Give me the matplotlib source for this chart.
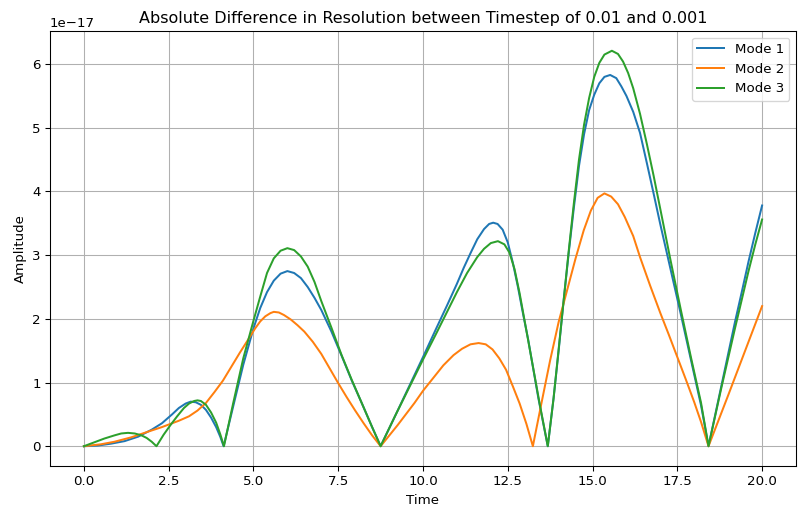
import numpy as np
from matplotlib import pyplot as plt

# amplitudes in units of 1e-17
t_mode1 = [0, 0.4, 0.8, 1.2, 1.6, 2.0, 2.3, 2.6, 2.8, 3.0, 3.15, 3.3, 3.45, 3.6, 3.75, 3.9, 4.02, 4.12,
           4.4, 4.7, 5.0, 5.2, 5.4, 5.6, 5.8, 6.0, 6.2, 6.4, 6.6, 6.8, 7.0, 7.3, 7.6, 7.9, 8.2, 8.5, 8.75,
           9.2, 9.6, 10.0, 10.4, 10.7, 11.0, 11.2, 11.4, 11.6, 11.8, 11.95, 12.07, 12.2, 12.35, 12.5,
           12.65, 12.8, 12.95, 13.1, 13.25, 13.4, 13.55, 13.68,
           13.85, 14.0, 14.15, 14.3, 14.45, 14.6, 14.75, 14.9, 15.05, 15.2, 15.35, 15.52, 15.7, 15.85,
           16.0, 16.2, 16.4, 16.6, 16.8, 17.0, 17.3, 17.6, 17.9, 18.2, 18.42,
           18.8, 19.2, 19.4, 19.6, 19.8, 20.0]
a_mode1 = [0, 0.01, 0.04, 0.08, 0.15, 0.26, 0.36, 0.5, 0.6, 0.67, 0.70, 0.69, 0.65, 0.57, 0.45, 0.3, 0.15, 0.0,
           0.62, 1.28, 1.85, 2.17, 2.42, 2.6, 2.71, 2.75, 2.72, 2.64, 2.5, 2.33, 2.14, 1.8, 1.42, 1.03, 0.67, 0.3, 0.0,
           0.5, 0.95, 1.4, 1.86, 2.2, 2.55, 2.8, 3.03, 3.25, 3.41, 3.49, 3.51, 3.49, 3.4, 3.2,
           2.88, 2.5, 2.08, 1.68, 1.22, 0.76, 0.35, 0.0,
           0.75, 1.5, 2.3, 3.05, 3.75, 4.4, 4.9, 5.28, 5.52, 5.7, 5.8, 5.83, 5.78, 5.65,
           5.5, 5.25, 4.92, 4.45, 3.97, 3.48, 2.78, 2.08, 1.36, 0.64, 0.0,
           0.95, 1.95, 2.42, 2.9, 3.35, 3.78]

t_mode2 = [0, 0.5, 0.9, 1.4, 1.9, 2.3, 2.8, 3.1, 3.35, 3.6, 3.85, 4.1, 4.35, 4.6, 4.85, 5.05, 5.2, 5.35,
           5.5, 5.6, 5.75, 5.9, 6.1, 6.3, 6.5, 6.75, 7.0, 7.25, 7.5, 7.75, 8.0, 8.25, 8.5, 8.75,
           9.25, 9.75, 10.0, 10.3, 10.6, 10.9, 11.15, 11.4, 11.64, 11.85, 12.05, 12.25, 12.45, 12.65,
           12.85, 13.05, 13.24,
           13.51, 13.75, 14.0, 14.25, 14.5, 14.74, 14.95, 15.15, 15.35, 15.55, 15.75, 15.95, 16.2,
           16.4, 16.7, 17.0, 17.25, 17.5, 17.75, 18.0, 18.2, 18.42,
           19.0, 19.5, 20.0]
a_mode2 = [0, 0.03, 0.07, 0.14, 0.23, 0.3, 0.4, 0.47, 0.56, 0.68, 0.85, 1.03, 1.25, 1.47, 1.68, 1.85, 1.96, 2.04,
           2.09, 2.11, 2.1, 2.06, 1.99, 1.9, 1.8, 1.64, 1.45, 1.22, 0.99, 0.77, 0.56, 0.36, 0.17, 0.0,
           0.33, 0.68, 0.87, 1.07, 1.27, 1.43, 1.53, 1.6, 1.62, 1.6, 1.52, 1.38, 1.2, 0.94,
           0.67, 0.35, 0.0,
           0.72, 1.35, 1.95, 2.45, 2.95, 3.39, 3.7, 3.9, 3.97, 3.92, 3.8, 3.6, 3.3,
           2.97, 2.52, 2.09, 1.75, 1.4, 1.05, 0.69, 0.38, 0.0,
           0.8, 1.5, 2.2]

t_mode3 = [0, 0.3, 0.6, 0.9, 1.1, 1.3, 1.5, 1.7, 1.85, 2.0, 2.14,
           2.35, 2.55, 2.75, 2.95, 3.1, 3.25, 3.35, 3.45, 3.6, 3.75, 3.9, 4.02, 4.13,
           4.4, 4.7, 5.0, 5.2, 5.4, 5.6, 5.8, 6.0, 6.2, 6.4, 6.6, 6.8, 7.0, 7.3, 7.6, 7.9, 8.2, 8.5, 8.75,
           9.2, 9.6, 10.0, 10.4, 10.7, 11.0, 11.3, 11.6, 11.8, 12.0, 12.21, 12.4, 12.55, 12.7,
           12.85, 13.0, 13.15, 13.3, 13.45, 13.58, 13.68,
           13.85, 14.0, 14.15, 14.3, 14.45, 14.6, 14.75, 14.9, 15.05, 15.2, 15.35, 15.57, 15.75, 15.9,
           16.05, 16.2, 16.4, 16.6, 16.8, 17.0, 17.3, 17.6, 17.9, 18.2, 18.42,
           18.8, 19.2, 19.4, 19.6, 19.8, 20.0]
a_mode3 = [0, 0.06, 0.12, 0.17, 0.2, 0.21, 0.2, 0.17, 0.13, 0.07, 0.0,
           0.18, 0.33, 0.47, 0.6, 0.67, 0.71, 0.72, 0.71, 0.65, 0.53, 0.37, 0.19, 0.0,
           0.67, 1.38, 1.97, 2.35, 2.72, 2.95, 3.07, 3.11, 3.08, 2.98, 2.82, 2.58, 2.28, 1.86, 1.43, 1.04, 0.67, 0.3, 0.0,
           0.5, 0.93, 1.36, 1.78, 2.1, 2.42, 2.72, 2.97, 3.1, 3.19, 3.22, 3.17, 3.04, 2.78,
           2.4, 1.96, 1.52, 1.08, 0.64, 0.28, 0.0,
           0.75, 1.52, 2.3, 3.08, 3.82, 4.5, 5.05, 5.47, 5.8, 6.02, 6.15, 6.21, 6.16, 6.04,
           5.86, 5.62, 5.22, 4.75, 4.25, 3.72, 2.92, 2.15, 1.4, 0.68, 0.0,
           0.92, 1.85, 2.3, 2.75, 3.17, 3.56]

modes = [(t_mode1, a_mode1, "Mode 1"), (t_mode2, a_mode2, "Mode 2"), (t_mode3, a_mode3, "Mode 3")]


def main():
    fig = plt.figure(figsize=(800 / 96, 508 / 96), dpi=96)
    ax = fig.add_axes([0.0625, 0.0827, 0.9325, 0.8563])
    for t, a, name in modes:
        ax.plot(t, np.array(a) * 1e-17, label=name)
    ax.set_title("Absolute Difference in Resolution between Timestep of 0.01 and 0.001")
    ax.set_xlabel("Time")
    ax.set_ylabel("Amplitude")
    ax.grid(True)
    ax.legend(loc="upper right")
    fig.savefig("out.png", dpi=96)


if __name__ == "__main__":
    main()
